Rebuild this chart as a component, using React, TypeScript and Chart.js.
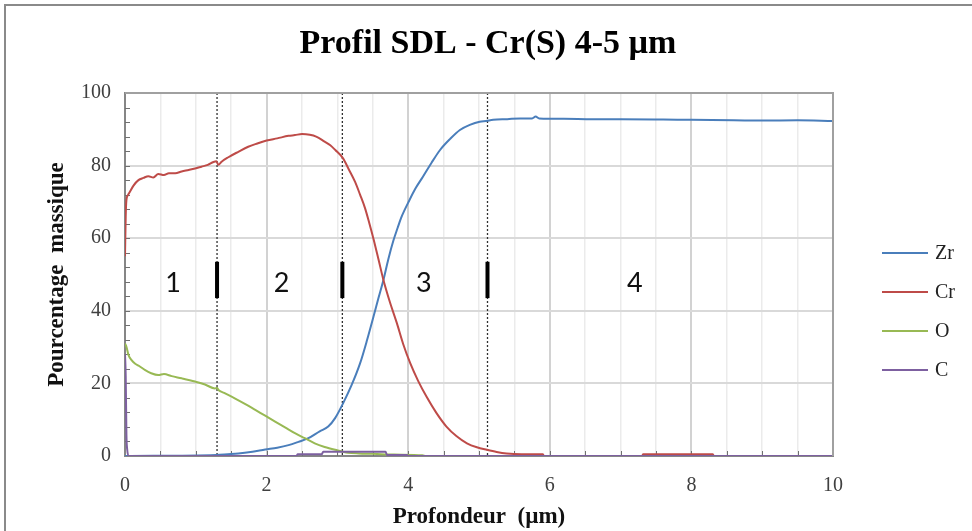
import React, { useEffect, useRef } from "react";
import { Chart, registerables } from "chart.js";

Chart.register(...registerables);

const titleText = "Profil SDL - Cr(S) 4-5 µm";
const xTitle = "Profondeur  (µm)";
const yTitle = "Pourcentage  massique";

const seriesNames = ["Zr", "Cr", "O", "C"];
const seriesColors = ["#4a7ebb", "#be4b48", "#98b954", "#7d60a0"];

const zrX = [0, 1.29, 1.45, 1.6, 1.8, 1.98, 2.15, 2.31, 2.45, 2.59, 2.75, 2.87, 2.97, 3.08, 3.2, 3.32, 3.42, 3.51, 3.58, 3.65, 3.72, 3.79, 3.85, 3.9, 3.95, 4.0, 4.1, 4.21, 4.33, 4.45, 4.59, 4.73, 4.87, 5.01, 5.1, 5.2, 5.4, 5.58, 5.75, 5.8, 5.85, 6.2, 6.6, 7.0, 7.6, 8.0, 8.6, 9.0, 9.5, 10];
const zrY = [0, 0.3, 0.5, 0.7, 1.2, 1.8, 2.3, 3.0, 3.9, 4.9, 6.8, 8.1, 10.5, 14.5, 19.5, 25.5, 32.0, 38.4, 43.5, 48.5, 54.3, 59.3, 62.8, 65.6, 67.8, 69.8, 73.6, 77.0, 80.8, 84.3, 87.3, 89.8, 91.2, 92.1, 92.3, 92.6, 92.8, 93.0, 93.0, 93.5, 93.0, 92.9, 92.8, 92.8, 92.7, 92.6, 92.5, 92.4, 92.5, 92.3];

const crX = [0, 0.01, 0.02, 0.04, 0.07, 0.12, 0.19, 0.26, 0.33, 0.4, 0.47, 0.55, 0.62, 0.71, 0.8, 0.9, 0.99, 1.08, 1.17, 1.25, 1.29, 1.32, 1.36, 1.46, 1.6, 1.74, 1.87, 2.0, 2.15, 2.31, 2.4, 2.5, 2.61, 2.7, 2.82, 2.9, 2.97, 3.08, 3.16, 3.25, 3.32, 3.39, 3.45, 3.51, 3.58, 3.65, 3.74, 3.84, 3.93, 4.03, 4.14, 4.26, 4.4, 4.54, 4.68, 4.83, 4.97, 5.11, 5.25, 5.39, 5.6, 5.9, 5.92, 7.3, 7.32, 8.3, 8.32, 10];
const crY = [55, 66, 70.5, 71.8, 72.8, 74.5, 76.0, 76.6, 77.1, 76.7, 77.7, 77.4, 77.9, 77.9, 78.4, 78.8, 79.2, 79.7, 80.2, 81.0, 81.2, 80.2, 81.0, 82.3, 83.8, 85.2, 86.1, 86.9, 87.5, 88.2, 88.4, 88.7, 88.5, 88.0, 86.6, 85.6, 84.3, 82.0, 79.0, 75.5, 72.0, 68.3, 64.2, 59.8, 54.2, 48.5, 42.5, 36.6, 30.8, 25.5, 20.7, 16.3, 11.8, 8.1, 5.5, 3.5, 2.4, 1.7, 1.1, 0.7, 0.5, 0.5, 0, 0, 0.5, 0.5, 0, 0];

const oX = [0, 0.02, 0.05, 0.09, 0.14, 0.2, 0.28, 0.37, 0.47, 0.55, 0.66, 0.8, 0.99, 1.13, 1.27, 1.3, 1.32, 1.4, 1.55, 1.7, 1.84, 1.98, 2.12, 2.26, 2.4, 2.54, 2.68, 2.82, 2.97, 3.15, 3.3, 3.5, 3.8, 4.2, 4.25, 10];
const oY = [31, 30.1, 27.8, 26.5, 25.5, 24.8, 23.7, 22.8, 22.3, 22.6, 22.0, 21.4, 20.5, 19.7, 18.6, 18.8, 18.2, 17.4, 15.9, 14.3, 12.7, 11.1, 9.5, 7.9, 6.3, 4.9, 3.5, 2.5, 1.7, 0.9, 0.7, 0.6, 0.4, 0.2, 0, 0];

const cX = [0, 0.01, 0.02, 0.03, 0.05, 2.42, 2.44, 2.78, 2.8, 3.68, 3.7, 3.98, 4.0, 10];
const cY = [28, 22, 6, 2, 0, 0, 0.5, 0.5, 1.2, 1.2, 0.3, 0.3, 0, 0];

const seriesX = [zrX, crX, oX, cX];
const seriesY = [zrY, crY, oY, cY];
const seriesOrder = [3, 2, 1, 0];

const boundaryX = [1.3, 3.07, 5.12];
const barLow = 43.5;
const barHigh = 53.5;
const zoneLabels = ["1", "2", "3", "4"];
const zoneLabelX = [0.68, 2.21, 4.22, 7.2];
const zoneLabelY = 47.5;

const xMin = 0, xMax = 10, xStep = 0.5, xLabelStep = 2;
const yMin = 0, yMax = 100, yStep = 20, yMinorStep = 4;

const SERIF = '"Liberation Serif", "Times New Roman", serif';

const overlay = {
  id: "overlay",
  beforeDatasetsDraw(chart: any) {
    const { ctx, chartArea: a, scales } = chart;
    const xs = scales.x, ys = scales.y;
    ctx.save();
    ctx.strokeStyle = "#707070";
    ctx.lineWidth = 1;
    for (let v = yMin + yMinorStep; v < yMax; v += yMinorStep) {
      const y = Math.round(ys.getPixelForValue(v)) + 0.5;
      ctx.beginPath();
      ctx.moveTo(a.left, y);
      ctx.lineTo(a.left + 5, y);
      ctx.stroke();
    }
    for (let v = xMin + xStep; v < xMax; v += xStep) {
      const x = Math.round(xs.getPixelForValue(v)) + 0.5;
      ctx.beginPath();
      ctx.moveTo(x, a.bottom);
      ctx.lineTo(x, a.bottom - 5);
      ctx.stroke();
    }
    ctx.strokeStyle = "#303030";
    ctx.lineWidth = 1.3;
    ctx.setLineDash([2, 2]);
    boundaryX.forEach((b) => {
      const x = xs.getPixelForValue(b);
      ctx.beginPath();
      ctx.moveTo(x, a.top);
      ctx.lineTo(x, a.bottom);
      ctx.stroke();
    });
    ctx.setLineDash([]);
    ctx.strokeStyle = "#000";
    ctx.lineWidth = 4;
    boundaryX.forEach((b) => {
      const x = xs.getPixelForValue(b);
      ctx.beginPath();
      ctx.moveTo(x, ys.getPixelForValue(barHigh));
      ctx.lineTo(x, ys.getPixelForValue(barLow));
      ctx.stroke();
    });
    ctx.fillStyle = "#111";
    ctx.font = '27px Lato, "Open Sans", sans-serif';
    ctx.textAlign = "center";
    ctx.textBaseline = "middle";
    zoneLabels.forEach((t, i) => {
      ctx.fillText(t, xs.getPixelForValue(zoneLabelX[i]), ys.getPixelForValue(zoneLabelY));
    });
    ctx.restore();
  },
  afterDraw(chart: any) {
    const { ctx, chartArea: a, width, height } = chart;
    ctx.save();
    ctx.strokeStyle = "#a0a0a0";
    ctx.lineWidth = 2;
    ctx.beginPath();
    ctx.moveTo(a.left, a.top);
    ctx.lineTo(a.right, a.top);
    ctx.lineTo(a.right, a.bottom);
    ctx.stroke();
    ctx.strokeStyle = "#8a8a8a";
    ctx.lineWidth = 2;
    ctx.beginPath();
    ctx.moveTo(5, height);
    ctx.lineTo(5, 5);
    ctx.lineTo(width, 5);
    ctx.stroke();
    // title
    ctx.fillStyle = "#000";
    ctx.font = "bold 34px " + SERIF;
    ctx.textAlign = "center";
    ctx.textBaseline = "middle";
    ctx.fillText(titleText, 488, 44);
    // legend
    const lx0 = 882, lx1 = 928, tx = 935;
    const ly = [253, 292, 331, 370];
    ctx.font = "20px " + SERIF;
    ctx.textAlign = "left";
    ctx.textBaseline = "middle";
    seriesNames.forEach((n, i) => {
      ctx.strokeStyle = seriesColors[i];
      ctx.lineWidth = 2;
      ctx.beginPath();
      ctx.moveTo(lx0, ly[i]);
      ctx.lineTo(lx1, ly[i]);
      ctx.stroke();
      ctx.fillStyle = "#222";
      ctx.fillText(n, tx, ly[i] + 1);
    });
    ctx.restore();
  },
};

export default function App() {
  const ref = useRef<HTMLCanvasElement | null>(null);
  useEffect(() => {
    document.body.style.margin = "0";
    const canvas = ref.current;
    if (!canvas) return;
    const datasets = seriesNames.map((n, i) => ({
      label: n,
      data: seriesX[i].map((x, j) => ({ x, y: seriesY[i][j] })),
      borderColor: seriesColors[i],
      backgroundColor: seriesColors[i],
      borderWidth: 2,
      pointRadius: 0,
      cubicInterpolationMode: "monotone" as const,
      fill: false,
      order: seriesOrder[i],
    }));
    const chart = new Chart(canvas, {
      type: "line",
      data: { datasets },
      plugins: [overlay],
      options: {
        animation: false,
        responsive: false,
        maintainAspectRatio: false,
        layout: { padding: { left: 40, right: 139, top: 93, bottom: 0 } },
        plugins: {
          legend: { display: false },
          tooltip: { enabled: false },
          title: { display: false },
        },
        scales: {
          x: {
            type: "linear",
            min: xMin,
            max: xMax,
            afterFit: (s: any) => { s.height = 75; },
            ticks: {
              stepSize: xStep,
              autoSkip: false,
              maxRotation: 0,
              padding: 18,
              color: "#404040",
              font: { family: SERIF, size: 20 },
              callback: (v: any) => (Math.abs(Number(v) % xLabelStep) < 1e-9 ? String(v) : ""),
            },
            grid: {
              drawTicks: false,
              color: (c: any) => {
                const v = c.tick ? c.tick.value : 0;
                if (v <= xMin || v >= xMax) return "rgba(0,0,0,0)";
                return Math.abs(v % xLabelStep) < 1e-9 ? "#d2d2d2" : "#ebebeb";
              },
              lineWidth: (c: any) => {
                const v = c.tick ? c.tick.value : 0;
                return Math.abs(v % xLabelStep) < 1e-9 ? 2 : 1.5;
              },
            },
            border: { display: true, color: "#868686", width: 2 },
            title: {
              display: true,
              text: xTitle,
              color: "#111",
              font: { family: SERIF, size: 23, weight: "bold" },
              padding: { top: 0, bottom: 0 },
            },
          },
          y: {
            type: "linear",
            min: yMin,
            max: yMax,
            afterFit: (s: any) => { s.width = 85; },
            ticks: {
              stepSize: yStep,
              padding: 14,
              color: "#404040",
              font: { family: SERIF, size: 20 },
            },
            grid: {
              drawTicks: false,
              color: (c: any) => {
                const v = c.tick ? c.tick.value : 0;
                if (v <= yMin || v >= yMax) return "rgba(0,0,0,0)";
                return "#d9d9d9";
              },
              lineWidth: 2,
            },
            border: { display: true, color: "#868686", width: 2 },
            title: {
              display: true,
              text: yTitle,
              color: "#111",
              font: { family: SERIF, size: 23, weight: "bold" },
              padding: { top: 3, bottom: 0 },
            },
          },
        },
      },
    });
    return () => chart.destroy();
  }, []);
  return (
    <div style={{ width: 972, height: 531, background: "#fff" }}>
      <canvas ref={ref} width={972} height={531} style={{ width: 972, height: 531, display: "block" }} />
    </div>
  );
}
